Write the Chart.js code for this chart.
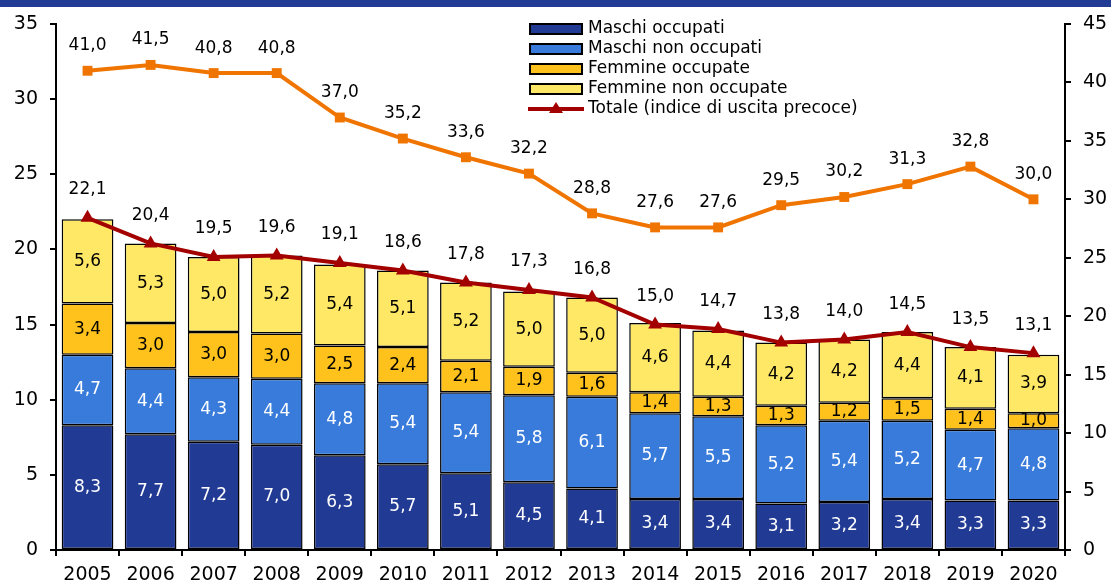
<!DOCTYPE html>
<html>
<head>
<meta charset="utf-8">
<script src="https://cdn.jsdelivr.net/npm/chart.js@4/dist/chart.umd.min.js"></script>
<style>
  html, body { margin: 0; padding: 0; background: #fff; }
  #wrap { width: 1111px; height: 583px; }
</style>
</head>
<body>
<div id="wrap"><canvas id="c" width="1111" height="583"></canvas></div>
<script>
const anni = ['2005','2006','2007','2008','2009','2010','2011','2012','2013','2014','2015','2016','2017','2018','2019','2020'];
const maschiOcc = [8.3,7.7,7.2,7.0,6.3,5.7,5.1,4.5,4.1,3.4,3.4,3.1,3.2,3.4,3.3,3.3];
const maschiNonOcc = [4.7,4.4,4.3,4.4,4.8,5.4,5.4,5.8,6.1,5.7,5.5,5.2,5.4,5.2,4.7,4.8];
const femmineOcc = [3.4,3.0,3.0,3.0,2.5,2.4,2.1,1.9,1.6,1.4,1.3,1.3,1.2,1.5,1.4,1.0];
const femmineNonOcc = [5.6,5.3,5.0,5.2,5.4,5.1,5.2,5.0,5.0,4.6,4.4,4.2,4.2,4.4,4.1,3.9];
const totale = [22.1,20.4,19.5,19.6,19.1,18.6,17.8,17.3,16.8,15.0,14.7,13.8,14.0,14.5,13.5,13.1];
const serieDestra = [41.0,41.5,40.8,40.8,37.0,35.2,33.6,32.2,28.8,27.6,27.6,29.5,30.2,31.3,32.8,30.0];

const FONT = 'DejaVu Sans';
const fmt = v => v.toFixed(1).replace('.', ',');

const bar = (label, data, color, txt) => ({
  type: 'bar', label, data, backgroundColor: color, borderColor: '#000', borderWidth: 1.5,
  stack: 's', yAxisID: 'y', order: 2, barPercentage: 0.82, categoryPercentage: 1.0,
  labelColor: txt, borderSkipped: false
});

const datasets = [
  bar('Maschi occupati', maschiOcc, '#213a94', '#fff'),
  bar('Maschi non occupati', maschiNonOcc, '#387bdb', '#fff'),
  bar('Femmine occupate', femmineOcc, '#ffc21c', '#000'),
  bar('Femmine non occupate', femmineNonOcc, '#ffe866', '#000'),
  {
    type: 'line', label: 'Totale (indice di uscita precoce)', data: totale,
    borderColor: '#a30000', backgroundColor: '#a30000', borderWidth: 4,
    pointStyle: 'triangle', pointRadius: 8, pointBorderWidth: 0,
    stack: 'tot', yAxisID: 'y', order: 1, labelOffset: 28, tension: 0
  },
  {
    type: 'line', label: 'serie destra', data: serieDestra,
    borderColor: '#f07400', backgroundColor: '#f07400', borderWidth: 4,
    pointStyle: 'rect', pointRadius: 7, pointBorderWidth: 0,
    yAxisID: 'y1', order: 0, labelOffset: 25, hideLegend: true, tension: 0
  }
];

const etichette = {
  id: 'etichette',
  beforeDraw(chart) {
    const ctx = chart.ctx;
    ctx.save();
    ctx.fillStyle = '#213a94';
    ctx.fillRect(0, 0, chart.width, 7);
    ctx.restore();
  },
  afterDatasetsDraw(chart) {
    const ctx = chart.ctx;
    ctx.save();
    ctx.font = '17px "' + FONT + '"';
    ctx.textAlign = 'center';
    ctx.textBaseline = 'middle';
    chart.data.datasets.forEach((ds, i) => {
      const meta = chart.getDatasetMeta(i);
      meta.data.forEach((el, j) => {
        const v = ds.data[j];
        if (ds.type === 'bar') {
          ctx.fillStyle = ds.labelColor;
          ctx.fillText(fmt(v), el.x, (el.y + el.base) / 2);
        } else {
          ctx.fillStyle = '#000';
          ctx.fillText(fmt(v), el.x, el.y - ds.labelOffset);
        }
      });
    });
    ctx.restore();
  },
  afterDraw(chart) {
    // legenda dentro l'area del grafico
    const ctx = chart.ctx;
    ctx.save();
    ctx.font = '17px "' + FONT + '"';
    ctx.textBaseline = 'middle';
    ctx.textAlign = 'left';
    let y = 29;
    chart.data.datasets.forEach(ds => {
      if (ds.hideLegend) return;
      const bx = 530, bw = 52;
      if (ds.type === 'bar') {
        ctx.fillStyle = ds.backgroundColor;
        ctx.fillRect(bx, y - 5, bw, 10);
        ctx.lineWidth = 2;
        ctx.strokeStyle = '#000';
        ctx.strokeRect(bx, y - 5, bw, 10);
      } else {
        ctx.strokeStyle = ds.borderColor;
        ctx.lineWidth = 4;
        ctx.beginPath();
        ctx.moveTo(bx - 2, y);
        ctx.lineTo(bx + bw + 2, y);
        ctx.stroke();
        ctx.fillStyle = ds.borderColor;
        ctx.beginPath();
        ctx.moveTo(bx + bw / 2, y - 7);
        ctx.lineTo(bx + bw / 2 + 7, y + 4);
        ctx.lineTo(bx + bw / 2 - 7, y + 4);
        ctx.closePath();
        ctx.fill();
      }
      ctx.fillStyle = '#000';
      ctx.fillText(ds.label, bx + bw + 6, y);
      y += 20;
    });
    ctx.restore();
  }
};

const tickFont = { family: FONT, size: 19 };

new Chart(document.getElementById('c'), {
  data: { labels: anni, datasets },
  plugins: [etichette],
  options: {
    responsive: false,
    animation: false,
    layout: { padding: { top: 24, left: 0, right: 0, bottom: 0 } },
    plugins: { legend: { display: false }, tooltip: { enabled: false } },
    scales: {
      x: {
        stacked: true,
        offset: true,
        grid: { offset: true, drawOnChartArea: false, drawTicks: true, tickLength: 6, color: '#000', lineWidth: 2 },
        border: { color: '#000', width: 2 },
        ticks: { color: '#000', font: tickFont, padding: 8, maxRotation: 0, autoSkip: false },
        afterFit(s) { s.height = 33; }
      },
      y: {
        stacked: true,
        position: 'left',
        min: 0, max: 35,
        grid: { drawOnChartArea: false, drawTicks: true, tickLength: 6, color: '#000', lineWidth: 2 },
        border: { color: '#000', width: 2 },
        ticks: { stepSize: 5, color: '#000', font: tickFont, padding: 12 },
        afterFit(s) { s.width = 56; }
      },
      y1: {
        position: 'right',
        min: 0, max: 45,
        grid: { drawOnChartArea: false, drawTicks: true, tickLength: 6, color: '#000', lineWidth: 2 },
        border: { color: '#000', width: 2 },
        ticks: { stepSize: 5, color: '#000', font: tickFont, padding: 12 },
        afterFit(s) { s.width = 46; }
      }
    }
  }
});
</script>
</body>
</html>
